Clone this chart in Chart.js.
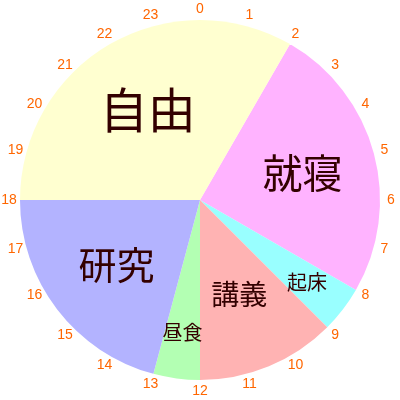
<!DOCTYPE html>
<html lang="ja">
  <head>
    <meta charset="UTF-8" />
    <title>一日のスケジュール</title>
    <script src="https://cdn.jsdelivr.net/npm/chart.js"></script>
    <style>
      html, body { margin: 0; padding: 0; background: #fff; }
      #wrap { width: 400px; height: 400px; }
    </style>
  </head>
  <body>
    <div id="wrap"><canvas id="clockChart"></canvas></div>

    <script>
      // データ
      const categories = ["就寝", "起床", "講義", "昼食", "研究", "自由"];
      const hours = [6, 1, 3, 1, 5, 8];
      const startHour = 2;
      const hourTicks = ["0", "1", "2", "3", "4", "5", "6", "7", "8", "9", "10", "11",
        "12", "13", "14", "15", "16", "17", "18", "19", "20", "21", "22", "23"];

      // 見た目
      const colors = ["#ffb3ff", "#99ffff", "#ffb3b3", "#b3ffb3", "#b3b3ff", "#ffffd0"];
      const labelSizes = [40, 20, 28, 20, 38, 48];
      const labelRadius = [0.59, 0.75, 0.57, 0.74, 0.585, 0.58];

      const clockLabels = {
        id: "clockLabels",
        afterDraw(chart) {
          const ctx = chart.ctx;
          const arcs = chart.getDatasetMeta(0).data;
          const cx = arcs[0].x, cy = arcs[0].y, r = arcs[0].outerRadius;

          ctx.save();
          ctx.textAlign = "center";
          ctx.textBaseline = "middle";

          // 時刻ラベル
          ctx.fillStyle = "#ff6600";
          ctx.font = "14px 'Liberation Sans'";
          hourTicks.forEach((t, i) => {
            const a = -Math.PI / 2 + (i * 2 * Math.PI) / hourTicks.length;
            ctx.fillText(t, cx + (r + 11) * Math.cos(a), cy + (r + 11) * Math.sin(a));
          });

          // 項目ラベル
          ctx.fillStyle = "#330000";
          arcs.forEach((arc, i) => {
            const p = arc.getProps(["startAngle", "endAngle", "outerRadius"], true);
            const a = (p.startAngle + p.endAngle) / 2;
            const rr = p.outerRadius * labelRadius[i];
            ctx.font = labelSizes[i] + "px 'Noto Sans CJK JP'";
            ctx.fillText(categories[i], cx + rr * Math.cos(a), cy + rr * Math.sin(a));
          });
          ctx.restore();
        },
      };

      new Chart(document.getElementById("clockChart"), {
        type: "pie",
        data: {
          labels: categories,
          datasets: [
            {
              data: hours,
              backgroundColor: colors,
              borderWidth: 0,
            },
          ],
        },
        options: {
          responsive: true,
          maintainAspectRatio: false,
          animation: false,
          rotation: startHour * 15,
          layout: { padding: 20 },
          plugins: {
            legend: { display: false },
            tooltip: { enabled: false },
          },
        },
        plugins: [clockLabels],
      });
    </script>
  </body>
</html>
